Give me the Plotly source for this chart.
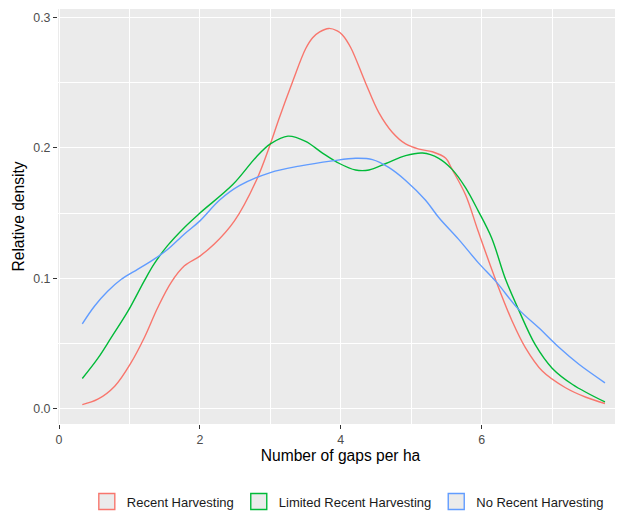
import plotly.graph_objects as go

series_names = ["Recent Harvesting", "Limited Recent Harvesting", "No Recent Harvesting"]
series_colors = ["#F8766D", "#00BA38", "#619CFF"]

recent_x = [0.33, 0.55, 0.79, 1.02, 1.21, 1.40, 1.59, 1.78, 2.00, 2.20, 2.49, 2.80, 3.00, 3.12, 3.31,
            3.50, 3.60, 3.70, 3.83, 3.95, 4.02, 4.14, 4.35, 4.54, 4.73, 4.92, 5.11, 5.30, 5.49, 5.58,
            5.77, 5.95, 6.21, 6.43, 6.62, 6.86, 7.19, 7.48, 7.75]
recent_y = [0.0031, 0.0072, 0.0172, 0.0351, 0.0544, 0.0774, 0.0967, 0.1095, 0.117, 0.126, 0.144, 0.175,
            0.203, 0.222, 0.250, 0.276, 0.2845, 0.289, 0.2916, 0.2897, 0.2868, 0.277, 0.250, 0.227, 0.212,
            0.203, 0.199, 0.197, 0.192, 0.1835, 0.164, 0.136, 0.097, 0.0674, 0.0468, 0.0288, 0.016,
            0.0087, 0.0039]

limited_x = [0.33, 0.55, 0.74, 0.98, 1.21, 1.35, 1.54, 1.78, 2.00, 2.47, 2.80, 3.00, 3.25, 3.50, 3.74,
             3.98, 4.21, 4.40, 4.64, 4.92, 5.16, 5.39, 5.58, 5.77, 5.95, 6.14, 6.34, 6.52, 6.76, 7.00,
             7.29, 7.75]
limited_y = [0.0231, 0.0385, 0.0544, 0.0749, 0.098, 0.111, 0.125, 0.139, 0.150, 0.172, 0.193, 0.203,
             0.209, 0.205, 0.196, 0.188, 0.183, 0.183, 0.188, 0.194, 0.196, 0.192, 0.1835, 0.1695,
             0.1517, 0.131, 0.099, 0.0763, 0.049, 0.031, 0.0185, 0.0051]

none_x = [0.33, 0.505, 0.69, 0.88, 1.12, 1.35, 1.54, 1.78, 2.00, 2.28, 2.56, 3.00, 3.41, 3.88, 4.21,
          4.45, 4.68, 4.92, 5.20, 5.39, 5.67, 5.95, 6.21, 6.52, 6.81, 7.10, 7.38, 7.75]
none_y = [0.065, 0.0787, 0.090, 0.099, 0.107, 0.1146, 0.122, 0.134, 0.144, 0.160, 0.171, 0.181, 0.186,
          0.190, 0.192, 0.191, 0.185, 0.175, 0.160, 0.1466, 0.130, 0.112, 0.097, 0.0763, 0.062, 0.0468,
          0.034, 0.0198]

x_ticks = [0, 2, 4, 6, 8]
y_ticks = [0.0, 0.1, 0.2, 0.3]

FONT = "Liberation Sans, Arial, sans-serif"

fig = go.Figure()
for name, color, xs, ys in zip(series_names, series_colors,
                               [recent_x, limited_x, none_x], [recent_y, limited_y, none_y]):
    fig.add_trace(go.Scatter(x=xs, y=ys, mode="lines", name=name, legendgroup=name,
                             line=dict(color=color, width=1.4, shape="spline", smoothing=1.0),
                             showlegend=False, hoverinfo="x+y"))
for name, color in zip(series_names, series_colors):
    fig.add_trace(go.Scatter(x=[None], y=[None], mode="markers", name=name, legendgroup=name,
                             marker=dict(symbol="square", size=22, color="#EBEBEB",
                                         line=dict(color=color, width=1.4)),
                             showlegend=True))

# page body adds an 8px offset; figure is sized so it ends at the window edge
fig.update_layout(
    width=615, height=506,
    margin=dict(l=50, r=0, t=1, b=90, autoexpand=False),
    paper_bgcolor="white",
    plot_bgcolor="#EBEBEB",
    font=dict(family=FONT, size=12, color="#000000"),
    showlegend=True,
    legend=dict(orientation="h", x=0.051, xanchor="left", y=-0.187, yanchor="middle",
                font=dict(family=FONT, size=13, color="#1a1a1a"),
                itemsizing="trace", bgcolor="rgba(0,0,0,0)", tracegroupgap=0),
    xaxis=dict(range=[-0.015, 8.006], tickvals=x_ticks, ticktext=[str(v) for v in x_ticks],
               automargin=False,
               showgrid=True, gridcolor="white", gridwidth=1.4,
               minor=dict(showgrid=True, gridcolor="white", gridwidth=0.7, dtick=1, tick0=0),
               zeroline=False, showline=False, ticks="outside", ticklen=4, tickwidth=1.1,
               tickcolor="#333333", tickfont=dict(family=FONT, size=12.4, color="#4D4D4D"),
               title=dict(text="Number of gaps per ha", font=dict(family=FONT, size=15.6, color="#000000"),
                          standoff=4)),
    yaxis=dict(range=[-0.0118, 0.3065], tickvals=y_ticks, ticktext=["0.0", "0.1", "0.2", "0.3"],
               automargin=False,
               showgrid=True, gridcolor="white", gridwidth=1.4,
               minor=dict(showgrid=True, gridcolor="white", gridwidth=0.7, dtick=0.05, tick0=0),
               zeroline=False, showline=False, ticks="outside", ticklen=4, tickwidth=1.1,
               tickcolor="#333333", tickfont=dict(family=FONT, size=12.4, color="#4D4D4D"),
               title=dict(text="Relative density", font=dict(family=FONT, size=15.6, color="#000000"),
                          standoff=4)),
)

fig.write_html("out.html")
